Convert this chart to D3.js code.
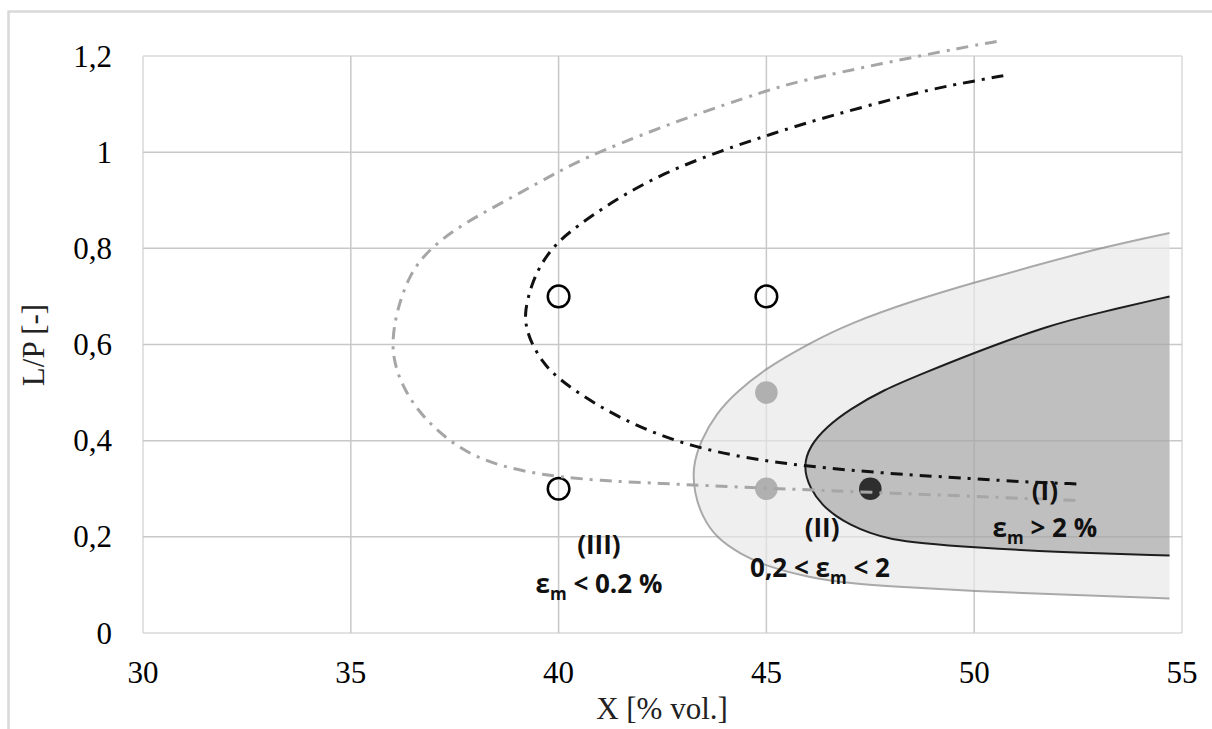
<!DOCTYPE html>
<html>
<head>
<meta charset="utf-8">
<script src="https://cdn.jsdelivr.net/npm/d3@7"></script>
<style>
  html, body { margin: 0; padding: 0; background: #fff; }
  svg { display: block; }
  .serif { font-family: 'Liberation Serif', 'Times New Roman', Times, serif; font-size: 31px; }
  .lbl { font-family: 'Open Sans', Lato, sans-serif; font-weight: 700; font-size: 26px; }
</style>
</head>
<body>
<svg id="chart" width="1212" height="729"></svg>
<script>
// ---------- data ----------
const xTicks = [30, 35, 40, 45, 50, 55];
const xTickLabels = ["30", "35", "40", "45", "50", "55"];
const yTicks = [0, 0.2, 0.4, 0.6, 0.8, 1.0, 1.2];
const yTickLabels = ["0", "0,2", "0,4", "0,6", "0,8", "1", "1,2"];

// region II boundary (outer, light)
const regionOuter = [
  [54.7,0.832],[53,0.80],[51.5,0.765],[50,0.729],[48.6,0.693],[47,0.644],[46,0.601],
  [45,0.551],[44.3,0.503],[43.8,0.458],[43.42,0.40],[43.22,0.345],[43.27,0.29],
  [43.45,0.243],[43.8,0.197],[44.4,0.163],[45,0.139],[46,0.116],[47,0.103],
  [48.2,0.096],[50,0.087],[52,0.080],[54.7,0.072]
];
// region I boundary (inner, dark)
const regionInner = [
  [54.7,0.70],[53,0.666],[51.8,0.640],[50,0.583],[48.8,0.541],[47.8,0.505],
  [47,0.465],[46.45,0.429],[46.05,0.39],[45.88,0.346],[46.05,0.30],[46.35,0.265],
  [46.69,0.242],[47.0,0.226],[47.5,0.207],[48,0.195],[48.7,0.187],[50,0.178],
  [52,0.168],[54.7,0.161]
];
// dash-dot boundaries
const curveBlack = [
  [50.7,1.159],[50,1.148],[49,1.132],[47.4,1.096],[45.8,1.057],[45,1.034],
  [44,1.006],[42.5,0.956],[41.3,0.898],[40.43,0.845],[40,0.815],[39.63,0.776],
  [39.35,0.727],[39.18,0.668],[39.22,0.635],[39.35,0.602],[39.6,0.565],[39.96,0.53],
  [40.9,0.474],[42,0.425],[43.2,0.388],[44.5,0.364],[45.9,0.347],[48,0.331],
  [50,0.321],[51.2,0.314],[52.5,0.31]
];
const curveGray = [
  [50.54,1.23],[49.8,1.219],[47.8,1.185],[45.8,1.148],[45,1.128],[43,1.07],
  [40.88,0.998],[40,0.96],[38.9,0.907],[37.71,0.852],[36.9,0.80],[36.42,0.748],
  [36.1,0.67],[35.98,0.6],[36.08,0.55],[36.3,0.505],[36.6,0.465],[37.0,0.427],
  [37.5,0.392],[38.0,0.367],[38.6,0.348],[39.3,0.334],[40,0.325],[41,0.317],
  [42.2,0.312],[45,0.301],[48,0.291],[51.2,0.280],[52.6,0.275]
];
// experiment points
const openPoints = [[40,0.7],[45,0.7],[40,0.3]];
const grayPoints = [[45,0.5],[45,0.3]];
const darkPoints = [[47.5,0.3]];

// region labels
const labelTitles = ["(III)", "(II)", "(I)"];
const labelTitlePos = [[40.97,0.164],[46.34,0.2],[51.7,0.277]];
const labelConds = [
  {pre:"ε", sub:"m", post:" < 0.2 %"},
  {pre:"0,2 < ε", sub:"m", post:" < 2"},
  {pre:"ε", sub:"m", post:" > 2 %"}
];
const labelCondPos = [[40.97,0.083],[46.29,0.117],[51.7,0.2]];

// ---------- drawing ----------
const svg = d3.select("#chart");
const L = 143, R = 1182, T = 56, B = 633;
const x = d3.scaleLinear().domain([30, 55]).range([L, R]);
const y = d3.scaleLinear().domain([0, 1.2]).range([B, T]);
const gridColor = "#d9d9d9";

// outer frame
svg.append("rect").attr("x", 8.5).attr("y", 11.5).attr("width", 1240).attr("height", 740)
  .attr("fill", "none").attr("stroke", gridColor).attr("stroke-width", 2.5);

// grid
const grid = svg.append("g");
grid.selectAll("line.v").data(xTicks).join("line")
  .attr("x1", d => x(d)).attr("x2", d => x(d)).attr("y1", T).attr("y2", B)
  .attr("stroke", gridColor).attr("stroke-width", 1.5);
grid.selectAll("line.h").data(yTicks).join("line")
  .attr("y1", d => y(d)).attr("y2", d => y(d)).attr("x1", L).attr("x2", R)
  .attr("stroke", gridColor).attr("stroke-width", 1.5);

const line = d3.line().x(d => x(d[0])).y(d => y(d[1])).curve(d3.curveBasis);

// regions
svg.append("path").attr("d", line(regionOuter) + "Z").attr("fill", "#efefef").attr("stroke", "none");
svg.append("path").attr("d", line(regionOuter)).attr("fill", "none").attr("stroke", "#a9a9a9").attr("stroke-width", 2);
svg.append("path").attr("d", line(regionInner) + "Z").attr("fill", "#bfbfbf").attr("stroke", "none");
svg.append("path").attr("d", line(regionInner)).attr("fill", "none").attr("stroke", "#1e1e1e").attr("stroke-width", 2);

// faint grid overlay through fills
const grid2 = svg.append("g").attr("opacity", 0.07);
grid2.selectAll("line.v").data(xTicks.slice(1, -1)).join("line")
  .attr("x1", d => x(d)).attr("x2", d => x(d)).attr("y1", T).attr("y2", B)
  .attr("stroke", "#000").attr("stroke-width", 1.5);
grid2.selectAll("line.h").data(yTicks.slice(1, -1)).join("line")
  .attr("y1", d => y(d)).attr("y2", d => y(d)).attr("x1", L).attr("x2", R)
  .attr("stroke", "#000").attr("stroke-width", 1.5);

// tick labels
svg.append("g").selectAll("text").data(yTicks).join("text")
  .attr("class", "serif").attr("x", 112).attr("y", d => y(d)).attr("dy", "0.34em")
  .attr("text-anchor", "end").attr("fill", "#000").text((d, i) => yTickLabels[i]);
svg.append("g").selectAll("text").data(xTicks).join("text")
  .attr("class", "serif").attr("x", d => x(d)).attr("y", 683)
  .attr("text-anchor", "middle").attr("fill", "#000").text((d, i) => xTickLabels[i]);

// axis titles
svg.append("text").attr("class", "serif").attr("x", 662).attr("y", 719).attr("text-anchor", "middle")
  .attr("fill", "#222").text("X [% vol.]");
svg.append("text").attr("class", "serif").attr("transform", "translate(44,345) rotate(-90)")
  .attr("text-anchor", "middle").attr("fill", "#222").text("L/P [-]");

// points
svg.append("g").selectAll("circle").data(openPoints).join("circle")
  .attr("cx", d => x(d[0])).attr("cy", d => y(d[1])).attr("r", 10.8)
  .attr("fill", "none").attr("stroke", "#000").attr("stroke-width", 2.5);
svg.append("g").selectAll("circle").data(grayPoints).join("circle")
  .attr("cx", d => x(d[0])).attr("cy", d => y(d[1])).attr("r", 11.3)
  .attr("fill", "#b0b0b0");
svg.append("g").selectAll("circle").data(darkPoints).join("circle")
  .attr("cx", d => x(d[0])).attr("cy", d => y(d[1])).attr("r", 11.3)
  .attr("fill", "#2e2e2e");

// dash-dot curves
svg.append("path").attr("d", line(curveGray)).attr("fill", "none")
  .attr("stroke", "#a6a6a6").attr("stroke-width", 3).attr("stroke-dasharray", "12,7,3,7");
svg.append("path").attr("d", line(curveBlack)).attr("fill", "none")
  .attr("stroke", "#111").attr("stroke-width", 3).attr("stroke-dasharray", "12,7,3,7");

// region labels
labelTitles.forEach((t, i) => {
  svg.append("text").attr("class", "lbl").attr("x", x(labelTitlePos[i][0])).attr("y", y(labelTitlePos[i][1]))
    .attr("text-anchor", "middle").attr("fill", "#111").text(t);
});
labelConds.forEach((c, i) => {
  const tx = svg.append("text").attr("class", "lbl").attr("x", x(labelCondPos[i][0])).attr("y", y(labelCondPos[i][1]))
    .attr("text-anchor", "middle").attr("fill", "#111");
  tx.append("tspan").text(c.pre);
  tx.append("tspan").style("font-size", "17px").attr("dy", 7).text(c.sub);
  tx.append("tspan").attr("dy", -7).text(c.post);
});
</script>
</body>
</html>
